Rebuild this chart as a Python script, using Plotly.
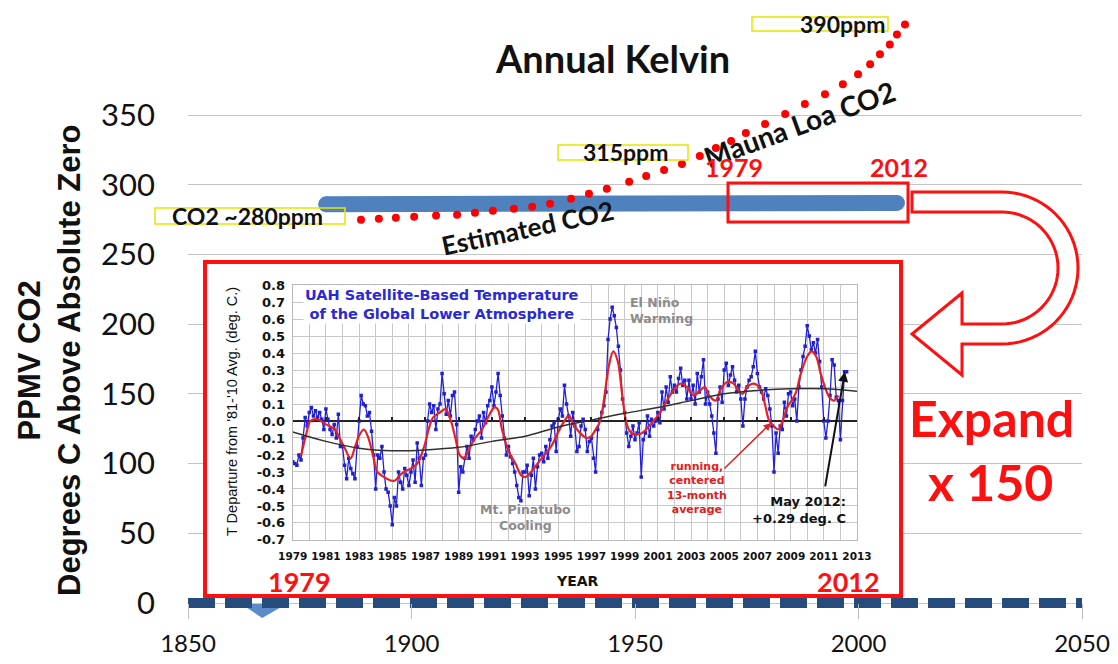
import numpy as np
import plotly.graph_objects as go

# ---------------- data ----------------
# main chart (x = year, y = PPMV / degrees K scale)
main_xticks = [1850, 1900, 1950, 2000, 2050]
main_yticks = [0, 50, 100, 150, 200, 250, 300, 350]

zero_years = [1850, 2050]
zero_vals = [0, 0]

est_years = [1880.9, 2008.6]
est_vals = [286.0, 287.0]

mauna_years = [1888.7, 1892.7, 1896.5, 1900.6, 1905.5, 1910.2, 1914.2, 1918.2, 1922.9,
               1927.0, 1931.0, 1935.7, 1939.7, 1943.7, 1948.7, 1952.5, 1956.5, 1960.5,
               1964.5, 1968.1, 1971.5, 1974.8, 1979.1, 1983.6, 1988.0, 1992.5, 1996.5,
               1999.9, 2002.6, 2004.8, 2007.0, 2008.6, 2010.4]
mauna_vals = [275.0, 275.7, 276.4, 277.1, 277.9, 278.6, 280.0, 281.4, 282.9,
              284.3, 286.4, 290.0, 293.6, 297.1, 302.1, 306.4, 310.7, 315.0,
              320.7, 326.4, 331.4, 337.1, 343.6, 350.7, 357.9, 365.0, 372.1,
              379.3, 386.4, 393.6, 400.7, 407.9, 415.0]

# inset: UAH lower-troposphere anomaly, 8 readings per year from Jan 1979 to May 2012
uah_start = 1979
uah_per_year = 8
uah_anom = [
    -0.24, -0.25, -0.26, -0.20, -0.23, -0.10, 0.02, -0.03,   # 1979
    0.05, 0.08, 0.03, 0.06, 0.02, 0.05, 0.01, -0.05,         # 1980
    0.07, 0.01, -0.05, -0.08, -0.02, -0.10, 0.04, -0.15,     # 1981
    -0.15, -0.26, -0.34, -0.22, -0.28, -0.31, -0.34, -0.15,  # 1982
    0.00, 0.15, 0.10, 0.09, 0.03, 0.05, -0.06, -0.20,        # 1983
    -0.40, -0.20, -0.22, -0.15, -0.30, -0.40, -0.42, -0.50,  # 1984
    -0.61, -0.45, -0.50, -0.30, -0.36, -0.40, -0.28, -0.32,  # 1985
    -0.38, -0.30, -0.23, -0.36, -0.13, -0.22, -0.38, -0.22,  # 1986
    -0.20, 0.00, 0.10, 0.05, 0.09, -0.05, 0.07, 0.10,        # 1987
    0.28, 0.16, 0.04, 0.12, 0.03, 0.15, 0.17, -0.02,         # 1988
    -0.42, -0.27, -0.30, -0.22, -0.15, -0.22, -0.09, -0.11,  # 1989
    -0.05, 0.00, 0.03, -0.10, 0.05, -0.01, 0.09, 0.12,       # 1990
    0.20, 0.09, 0.17, 0.28, 0.15, 0.03, -0.10, -0.20,        # 1991
    -0.15, -0.21, -0.25, -0.30, -0.38, -0.45, -0.47, -0.30,  # 1992
    -0.30, -0.26, -0.44, -0.32, -0.22, -0.40, -0.27, -0.20,  # 1993
    -0.19, -0.24, -0.15, -0.22, -0.11, -0.03, -0.01, -0.18,  # 1994
    0.01, 0.07, 0.03, 0.21, 0.10, 0.03, -0.09, 0.05,         # 1995
    -0.03, -0.18, -0.15, -0.03, 0.01, -0.05, -0.18, -0.12,   # 1996
    -0.10, -0.22, -0.30, -0.05, 0.01, 0.05, 0.09, 0.17,      # 1997
    0.48, 0.60, 0.67, 0.62, 0.55, 0.44, 0.30, 0.13,          # 1998
    0.05, -0.07, -0.15, -0.09, -0.03, -0.11, -0.07, -0.01,   # 1999
    -0.33, -0.11, -0.07, 0.03, -0.09, 0.01, -0.03, 0.00,     # 2000
    0.05, -0.01, 0.17, 0.07, 0.20, 0.11, 0.26, 0.17,         # 2001
    0.21, 0.17, 0.25, 0.31, 0.21, 0.24, 0.13, 0.24,          # 2002
    0.13, 0.21, 0.10, 0.28, 0.17, 0.26, 0.36, 0.10,          # 2003
    0.17, 0.10, 0.03, -0.07, -0.19, 0.13, 0.20, 0.11,        # 2004
    0.30, 0.34, 0.21, 0.27, 0.32, 0.24, 0.17, 0.21,          # 2005
    0.13, -0.03, 0.13, 0.20, 0.24, 0.26, 0.32, 0.41,         # 2006
    0.28, 0.20, 0.17, 0.13, 0.19, 0.15, 0.07, -0.03,         # 2007
    -0.30, -0.07, -0.19, -0.03, -0.05, 0.11, 0.03, 0.16,     # 2008
    0.17, 0.09, 0.13, 0.00, 0.20, 0.30, 0.38, 0.44,          # 2009
    0.56, 0.50, 0.42, 0.46, 0.40, 0.48, 0.35, 0.20,          # 2010
    0.00, -0.10, 0.00, 0.15, 0.36, 0.33, 0.14, 0.12,         # 2011
    -0.11, 0.12, 0.29, 0.29,                                 # 2012
]

run_years = [1979.51, 1979.81, 1980.07, 1980.48, 1981.01, 1981.55, 1981.82, 1982.09, 1982.49,
             1982.76, 1983.03, 1983.29, 1983.56, 1983.83, 1984.10, 1984.50, 1984.90, 1985.17,
             1985.44, 1985.71, 1986.11, 1986.51, 1986.92, 1987.19, 1987.45, 1987.86, 1988.21,
             1988.53, 1988.80, 1989.06, 1989.33, 1989.60, 1990.00, 1990.41, 1990.81, 1991.16,
             1991.35, 1991.61, 1992.02, 1992.42, 1992.77, 1993.01, 1993.36, 1993.76, 1994.16,
             1994.57, 1994.97, 1995.37, 1995.64, 1995.91, 1996.31, 1996.71, 1996.98, 1997.25,
             1997.52, 1997.79, 1998.06, 1998.32, 1998.59, 1998.86, 1999.13, 1999.40, 1999.67,
             2000.07, 2000.47, 2000.74, 2001.14, 2001.54, 2001.95, 2002.35, 2002.75, 2003.15,
             2003.56, 2003.83, 2004.09, 2004.50, 2004.76, 2005.17, 2005.57, 2005.84, 2006.11,
             2006.38, 2006.78, 2007.18, 2007.45, 2007.72, 2007.99, 2008.25, 2008.52, 2008.79,
             2009.06, 2009.33, 2009.59, 2010.00, 2010.27, 2010.54, 2010.81, 2011.07, 2011.34,
             2011.61, 2011.88]
run_vals = [-0.20, -0.08, 0.00, 0.01, -0.02, -0.05, -0.10, -0.15, -0.22,
            -0.15, -0.08, -0.05, -0.10, -0.20, -0.30, -0.33, -0.35, -0.35,
            -0.32, -0.30, -0.28, -0.25, -0.15, -0.05, 0.02, 0.05, 0.07,
            0.00, -0.10, -0.20, -0.22, -0.17, -0.10, -0.05, 0.03, 0.08,
            0.07, -0.05, -0.18, -0.25, -0.32, -0.33, -0.30, -0.25, -0.20,
            -0.15, -0.07, 0.00, 0.03, -0.02, -0.07, -0.10, -0.09, -0.05,
            0.00, 0.15, 0.33, 0.41, 0.35, 0.15, -0.02, -0.07, -0.08,
            -0.07, -0.03, 0.00, 0.05, 0.12, 0.18, 0.22, 0.20, 0.15,
            0.18, 0.20, 0.15, 0.12, 0.18, 0.23, 0.22, 0.18, 0.16,
            0.20, 0.22, 0.19, 0.10, 0.00, -0.03, -0.05, 0.00, 0.08,
            0.12, 0.17, 0.27, 0.38, 0.41, 0.38, 0.28, 0.20, 0.14,
            0.12, 0.15]

trend_years = [1979.0, 1981.0, 1983.0, 1985.0, 1987.0, 1989.0, 1991.0, 1993.0, 1995.0,
               1997.0, 1999.0, 2001.0, 2003.0, 2005.0, 2007.0, 2009.0, 2011.0, 2013.0]
trend_vals = [-0.065, -0.12, -0.16, -0.175, -0.17, -0.155, -0.12, -0.09, -0.035,
              0.005, 0.045, 0.08, 0.12, 0.16, 0.18, 0.19, 0.19, 0.175]

inset_xticks = list(range(1979, 2014, 2))
inset_xgrid = list(range(1979, 2014))
inset_yticks = [round(-0.7 + 0.1 * i, 1) for i in range(16)]
inset_yticktext = [f"{v:.1f}" for v in inset_yticks]

# ---------------- geometry helpers (pixels -> paper) ----------------
W, H = 1118, 664
ML, MR, MT, MB = 188, 36, 10, 42
PW, PH = W - ML - MR, H - MT - MB
Y0PX, PXV = 603, 1.394  # pixel row of 0 and pixels per unit on the main y scale
INSET_TOP, INSET_BOT = 285, 540


def px(x):
    return (x - ML) / PW


def py(y):
    return (H - MB - y) / PH


LATO = "Lato, 'Open Sans', sans-serif"
ARIAL = "'Liberation Sans', Arial, sans-serif"
DV = "'DejaVu Sans', sans-serif"
RED = "#ff1010"

uah_years = [uah_start + i / uah_per_year for i in range(len(uah_anom))]

fig = go.Figure()

# main series
fig.add_trace(go.Scatter(x=zero_years, y=zero_vals, mode="lines",
                         line=dict(color="#264b7d", width=10, dash="27px,10px"),
                         hoverinfo="skip", showlegend=False))
fig.add_trace(go.Scatter(x=est_years, y=est_vals, mode="lines+markers",
                         line=dict(color="#4f81bd", width=16),
                         marker=dict(size=16, color="#4f81bd"),
                         hoverinfo="skip", showlegend=False))
fig.add_trace(go.Scatter(x=mauna_years, y=mauna_vals, mode="markers",
                         marker=dict(size=8, color="#ff0000"),
                         hoverinfo="skip", showlegend=False))

# white cover panel under the inset
fig.add_trace(go.Scatter(x=[None], y=[None], xaxis="x2", yaxis="y2",
                         hoverinfo="skip", showlegend=False))

# inset series
fig.add_trace(go.Scatter(x=uah_years, y=uah_anom, mode="lines+markers", xaxis="x3", yaxis="y3",
                         line=dict(color="#2020e0", width=1.3),
                         marker=dict(size=3.5, symbol="square", color="#2020d0"),
                         hoverinfo="skip", showlegend=False))
fig.add_trace(go.Scatter(x=run_years, y=run_vals, mode="lines", xaxis="x3", yaxis="y3",
                         line=dict(color="#e82020", width=2.2, shape="spline"),
                         hoverinfo="skip", showlegend=False))
fig.add_trace(go.Scatter(x=trend_years, y=trend_vals, mode="lines", xaxis="x3", yaxis="y3",
                         line=dict(color="#303030", width=1.5, shape="spline"),
                         hoverinfo="skip", showlegend=False))
# carrier for the tick marks drawn on the inset zero line
fig.add_trace(go.Scatter(x=[None], y=[None], xaxis="x4", yaxis="y3",
                         hoverinfo="skip", showlegend=False))

GRID_IN = "#c8c8c8"
zero_row = INSET_TOP + 0.8 * (INSET_BOT - INSET_TOP) / 1.5

fig.update_layout(
    width=W, height=H,
    margin=dict(l=ML, r=MR, t=MT, b=MB, autoexpand=False),
    paper_bgcolor="white", plot_bgcolor="white",
    showlegend=False,
    xaxis=dict(domain=[0, 1], range=[1850, 2050], anchor="free", position=py(Y0PX),
               tickvals=main_xticks, ticks="outside", ticklen=15, tickcolor="#bdbdbd",
               showgrid=False, zeroline=False, showline=False, ticklabelstandoff=4,
               automargin=False,
               tickfont=dict(family=LATO, size=24, color="#111")),
    yaxis=dict(domain=[0, 1], range=[(Y0PX - (H - MB)) / PXV, (Y0PX - MT) / PXV],
               tickvals=main_yticks, showgrid=True, gridcolor="#c4c4c4", gridwidth=1,
               zeroline=False, showline=False, ticklabelstandoff=32, automargin=False,
               tickfont=dict(family=LATO, size=31, color="#111")),
    xaxis2=dict(domain=[px(205), px(901)], anchor="y2", range=[0, 1], visible=False,
                automargin=False),
    yaxis2=dict(domain=[py(596), py(262)], anchor="x2", range=[0, 1], visible=False,
                automargin=False),
    xaxis3=dict(domain=[px(292.7), px(857)], anchor="y3", range=[1978.999, 2013.001],
                tickvals=inset_xticks, showgrid=True, gridcolor=GRID_IN,
                minor=dict(tickvals=inset_xgrid, showgrid=True, gridcolor=GRID_IN),
                showline=True, mirror=True, linecolor="#b8b8b8", zeroline=False,
                ticks="", ticklabelstandoff=6, automargin=False,
                tickfont=dict(family=DV, size=10.5, color="#111", weight="bold")),
    xaxis4=dict(domain=[px(292.7), px(857)], overlaying="x3", anchor="free",
                position=py(zero_row), range=[1978.999, 2013.001], side="bottom",
                tickvals=inset_xticks, ticks="inside", ticklen=4, tickwidth=1.5,
                tickcolor="#222", showticklabels=False, showgrid=False, zeroline=False,
                showline=False, automargin=False),
    yaxis3=dict(domain=[py(INSET_BOT), py(INSET_TOP)], anchor="x3", range=[-0.7005, 0.8005],
                tickvals=inset_yticks, ticktext=inset_yticktext,
                showgrid=True, gridcolor=GRID_IN, showline=True, mirror=True,
                linecolor="#b8b8b8", zeroline=True, zerolinecolor="#222", zerolinewidth=2,
                ticks="", ticklabelstandoff=4, automargin=False,
                tickfont=dict(family=DV, size=13, color="#111", weight="bold")),
)

# ---------------- shapes ----------------
shapes = []


def rect(x0, y0, x1, y1, color, width):
    shapes.append(dict(type="rect", xref="paper", yref="paper",
                       x0=px(x0), x1=px(x1), y0=py(y1), y1=py(y0),
                       line=dict(color=color, width=width), fillcolor="rgba(0,0,0,0)",
                       layer="above"))


# small triangle below the zero line (decoration)
shapes.append(dict(type="path", xref="x", yref="y",
                   path="M 1861.6,0 L 1872.4,0 L 1866.6,-10.7 Z",
                   fillcolor="#5b8bc9", line=dict(width=0), layer="below"))

# yellow callout boxes
rect(155, 208, 345, 224, "#e6e600", 1.5)
rect(558, 145, 688, 160, "#e6e600", 1.5)
rect(752, 17, 888, 31, "#e6e600", 1.5)

# 1979-2012 box on the main chart and inset frame
rect(728, 183, 908, 222, RED, 3)
rect(205, 262, 901, 596, RED, 4)

# curved hollow arrow
cx, cy, ro, ri = 1002, 268, 76, 56
pts = [(912, 192), (cx, cy - ro)]
for a in np.linspace(-90, 90, 41):
    pts.append((cx + ro * np.cos(np.radians(a)), cy + ro * np.sin(np.radians(a))))
pts += [(cx, cy + ro), (962, cy + ro), (962, 375), (912, 334), (962, 293), (962, cy + ri), (cx, cy + ri)]
for a in np.linspace(90, -90, 41):
    pts.append((cx + ri * np.cos(np.radians(a)), cy + ri * np.sin(np.radians(a))))
pts += [(cx, cy - ri), (912, cy - ri)]
path = "M " + " L ".join(f"{px(x):.5f},{py(y):.5f}" for x, y in pts) + " Z"
shapes.append(dict(type="path", xref="paper", yref="paper", path=path,
                   line=dict(color=RED, width=3), fillcolor="white", layer="above"))

fig.update_layout(shapes=shapes)

# ---------------- annotations ----------------
anns = []


def ann(text, x, y, size, color="#111", family=LATO, weight="bold", angle=0,
        xanchor="center", align="center", bg=None):
    d = dict(text=text, xref="paper", yref="paper", x=px(x), y=py(y),
             xanchor=xanchor, yanchor="middle", align=align, showarrow=False,
             textangle=angle, font=dict(family=family, size=size, color=color, weight=weight))
    if bg:
        d["bgcolor"] = bg
    anns.append(d)


ann("Annual Kelvin", 612, 58, 38)
ann("PPMV CO2<br>Degrees C Above Absolute Zero", 49, 361, 31, family=ARIAL, angle=-90)
ann("CO2 ~280ppm", 170, 216, 23, xanchor="left")
ann("315ppm", 625, 152, 23)
ann("390ppm", 842, 24, 23)
ann("Estimated CO2", 527, 228, 26, angle=-12)
ann("Mauna Loa CO2", 799, 124, 28, angle=-20)
ann("1979", 734, 167, 25, color=RED)
ann("2012", 899, 167, 25, color=RED)
ann("Expand", 991, 418, 50, color=RED)
ann("x 150", 990, 482, 50, color=RED)

# inset texts
ann("UAH Satellite-Based Temperature<br>of the Global Lower Atmosphere", 442, 304, 14.5,
    color="#2a2ad4", family=DV, bg="white")
ann("El Niño<br>Warming", 628, 310, 12.5, color="#8c8c8c", family=DV, xanchor="left", align="left")
ann("Mt. Pinatubo<br>Cooling", 525, 517, 12.5, color="#8c8c8c", family=DV)
ann("running,<br>centered<br>13-month<br>average", 697, 488, 11, color="#e02020", family=DV)
ann("May 2012:<br>+0.29 deg. C", 848, 510, 13, family=DV, xanchor="right", align="right")
ann("T Departure from '81-'10 Avg. (deg. C.)", 232, 412, 14.5, family=ARIAL, weight="normal", angle=-90)
ann("YEAR", 577, 581, 14, family=DV)
ann("1979", 299, 581, 27, color=RED)
ann("2012", 848, 581, 27, color=RED)

# inset arrows
anns.append(dict(x=2012.27, y=0.29, xref="x3", yref="y3", ax=2011.07, ay=-0.394,
                 axref="x3", ayref="y3", text="", showarrow=True, arrowhead=2,
                 arrowsize=1, arrowwidth=2, arrowcolor="#111"))
anns.append(dict(x=2007.82, y=-0.012, xref="x3", yref="y3", ax=2004.92, ay=-0.288,
                 axref="x3", ayref="y3", text="", showarrow=True, arrowhead=2,
                 arrowsize=1, arrowwidth=1.5, arrowcolor="#e02020"))

fig.update_layout(annotations=anns)

fig.write_html("out.html", config={"displayModeBar": False},
               post_script="document.body.style.margin='0px';document.body.style.padding='0px';")
